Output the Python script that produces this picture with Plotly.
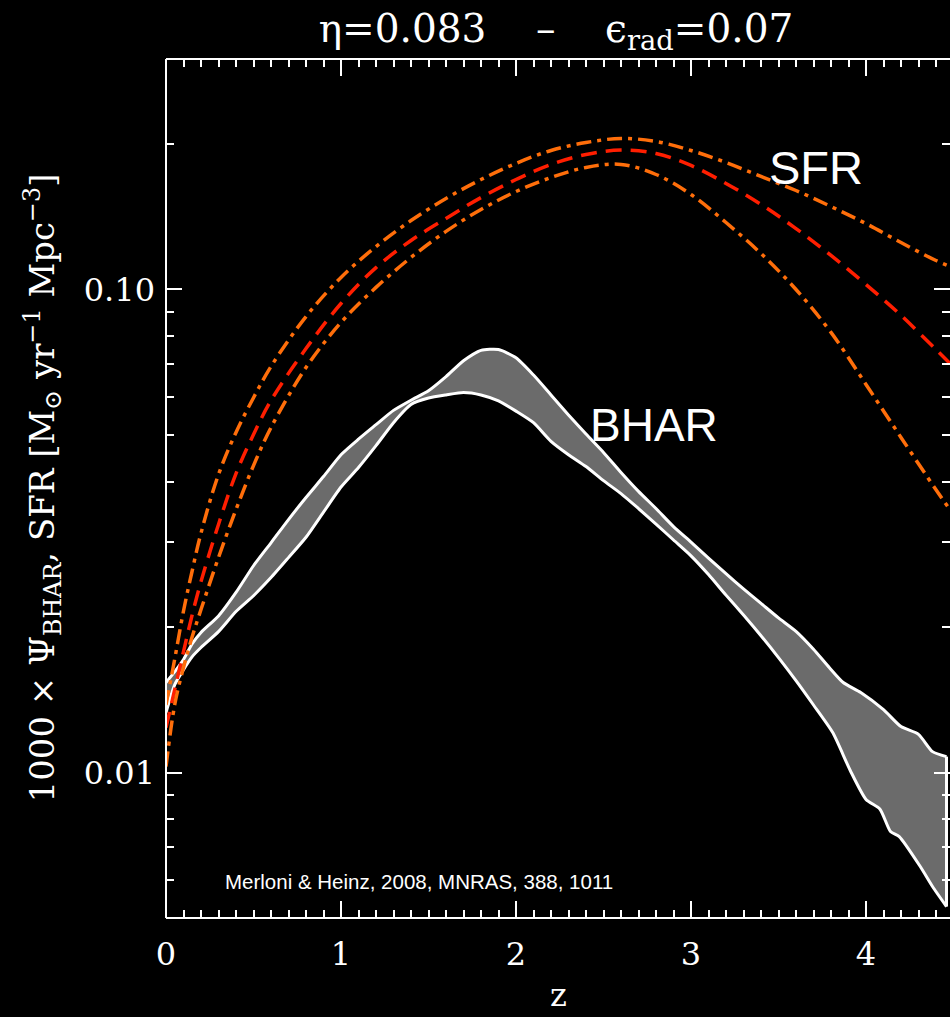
import numpy as np
import plotly.graph_objects as go

# ---- Star-formation-rate density (three estimates) ----
sfr_z = [0, 0.05, 0.1, 0.15, 0.2, 0.3, 0.4, 0.5, 0.6, 0.8, 1.0, 1.2, 1.4, 1.6, 1.8,
         2.0, 2.2, 2.4, 2.6, 2.8, 3.0, 3.2, 3.4, 3.6, 3.8, 4.0, 4.2, 4.4, 4.48]
sfr_high = [0.0138, 0.0172, 0.0216, 0.0262, 0.0313, 0.0414, 0.0506, 0.0597, 0.0693, 0.0879,
            0.1059, 0.1227, 0.1389, 0.1543, 0.1689, 0.1824, 0.1940, 0.2015, 0.2054, 0.2025,
            0.1940, 0.1832, 0.1714, 0.1603, 0.1485, 0.1369, 0.1251, 0.1148, 0.1116]
sfr_mid = [0.01239, 0.01486, 0.01780, 0.02124, 0.02485, 0.03263, 0.04159, 0.05010, 0.05892,
           0.07545, 0.09354, 0.1110, 0.1263, 0.1403, 0.1550, 0.1689, 0.1815, 0.1903, 0.1944,
           0.1912, 0.1806, 0.1658, 0.1500, 0.1337, 0.1176, 0.1024, 0.0884, 0.0751, 0.0703]
sfr_low = [0.01029, 0.01383, 0.01650, 0.01912, 0.02175, 0.02787, 0.03503, 0.04320, 0.05179,
           0.06894, 0.08546, 0.1010, 0.1165, 0.1319, 0.1464, 0.1595, 0.1705, 0.1789, 0.1815,
           0.1730, 0.1573, 0.1376, 0.1187, 0.1000, 0.0815, 0.0636, 0.0494, 0.0385, 0.0350]

# ---- Black-hole accretion-rate density band (upper / lower envelope) ----
bhar_z_upper = [0, 0.05, 0.1, 0.15, 0.2, 0.3, 0.4, 0.5, 0.6, 0.7, 0.8, 0.9, 1.0, 1.1, 1.2,
                1.3, 1.4, 1.5, 1.6, 1.7, 1.8, 1.9, 2.0, 2.1, 2.2, 2.3, 2.4, 2.5, 2.6, 2.7,
                2.8, 2.9, 3.0, 3.1, 3.2, 3.3, 3.4, 3.5, 3.6, 3.7, 3.79, 3.87, 3.97, 4.1,
                4.2, 4.3, 4.38, 4.46]
bhar_upper = [0.01536, 0.01618, 0.01714, 0.01849, 0.0195, 0.0211, 0.0236, 0.0268, 0.0299,
              0.0334, 0.0371, 0.0410, 0.0455, 0.0490, 0.0525, 0.0562, 0.0590, 0.0617,
              0.0660, 0.0712, 0.0748, 0.0751, 0.0722, 0.0665, 0.0605, 0.0550, 0.0502,
              0.0460, 0.0418, 0.0382, 0.0352, 0.0323, 0.0300, 0.0278, 0.0258, 0.0240,
              0.0224, 0.0209, 0.0196, 0.0180, 0.0165, 0.01536, 0.01465, 0.0135, 0.01245,
              0.0120, 0.01105, 0.01079]
bhar_z_lower = [0, 0.05, 0.1, 0.15, 0.2, 0.3, 0.4, 0.5, 0.6, 0.7, 0.8, 0.9, 1.0, 1.1, 1.2,
                1.3, 1.4, 1.5, 1.6, 1.7, 1.8, 1.9, 2.0, 2.1, 2.2, 2.3, 2.4, 2.5, 2.6, 2.7,
                2.8, 2.9, 3.0, 3.1, 3.2, 3.3, 3.4, 3.5, 3.6, 3.7, 3.81, 3.91, 4.0, 4.08,
                4.14, 4.19, 4.31, 4.38, 4.46]
bhar_lower = [0.01330, 0.01520, 0.01633, 0.01738, 0.01815, 0.01958, 0.02155, 0.02323,
              0.02533, 0.02786, 0.0307, 0.0346, 0.0390, 0.0428, 0.0475, 0.0530, 0.0578,
              0.0596, 0.0605, 0.0612, 0.0605, 0.0588, 0.0560, 0.0530, 0.0485, 0.0455,
              0.0430, 0.0402, 0.0378, 0.0352, 0.0327, 0.0303, 0.0281, 0.0257, 0.0233,
              0.0212, 0.0192, 0.0173, 0.0155, 0.0138, 0.0121, 0.0101, 0.0088, 0.0084,
              0.00755, 0.00737, 0.00639, 0.00581, 0.00528]

# ---- Axis ticks ----
x_major = [0, 1, 2, 3, 4]
x_minor = [round(0.1 * i, 1) for i in range(1, 45) if i % 10 != 0]
y_major = [0.01, 0.1]
y_major_text = ["0.01", "0.10"]
y_minor = [0.006, 0.007, 0.008, 0.009, 0.02, 0.03, 0.04, 0.05, 0.06, 0.07, 0.08, 0.09, 0.2]

ORANGE = "#ff6e0a"
RED = "#ff1e00"
GREY = "#6b6b6b"
SERIF = "DejaVu Serif"
SANS = "Liberation Sans"

fig = go.Figure()

# shaded BHAR band: lower edge, then upper edge filled down to it
fig.add_trace(go.Scatter(
    x=bhar_z_lower, y=bhar_lower, mode="lines",
    line=dict(color="white", width=3, shape="spline", smoothing=0.6), hoverinfo="skip"))
fig.add_trace(go.Scatter(
    x=bhar_z_upper, y=bhar_upper, mode="lines", fill="tonexty", fillcolor=GREY,
    line=dict(color="white", width=3, shape="spline", smoothing=0.6), hoverinfo="skip"))
# closing edge of the band at the last redshift
fig.add_trace(go.Scatter(
    x=[bhar_z_upper[-1], bhar_z_lower[-1]], y=[bhar_upper[-1], bhar_lower[-1]],
    mode="lines", line=dict(color="white", width=3), hoverinfo="skip"))

dashdot = "15px,6px,4px,6px"
fig.add_trace(go.Scatter(x=sfr_z, y=sfr_high, mode="lines",
                         line=dict(color=ORANGE, width=3.5, dash=dashdot, shape="spline")))
fig.add_trace(go.Scatter(x=sfr_z, y=sfr_mid, mode="lines",
                         line=dict(color=RED, width=3.5, dash="16px,9px", shape="spline")))
fig.add_trace(go.Scatter(x=sfr_z, y=sfr_low, mode="lines",
                         line=dict(color=ORANGE, width=3.5, dash=dashdot, shape="spline")))

tick_font = dict(family=SERIF, size=32, color="white")

# ticks on all four sides; the frame itself is drawn as shapes (left, top, bottom)
fig.update_xaxes(
    range=[0, 4.48], showgrid=False, zeroline=False,
    showline=False, mirror="ticks",
    ticks="inside", ticklen=17, tickwidth=2, tickcolor="white",
    tickvals=x_major, ticktext=[str(v) for v in x_major], tickfont=tick_font,
    ticklabelstandoff=14,
    minor=dict(tickvals=x_minor, ticks="inside", ticklen=8, tickwidth=2, tickcolor="white"),
)
fig.update_yaxes(
    type="log", range=[np.log10(0.005), np.log10(0.3)], showgrid=False, zeroline=False,
    showline=False, mirror="ticks",
    ticks="inside", ticklen=16, tickwidth=2, tickcolor="white",
    tickvals=y_major, ticktext=y_major_text, tickfont=tick_font,
    ticklabelstandoff=10,
    minor=dict(tickvals=y_minor, ticks="inside", ticklen=8, tickwidth=2, tickcolor="white"),
)

frame = dict(type="line", xref="paper", yref="paper", line=dict(color="white", width=2))
fig.update_layout(shapes=[
    dict(frame, x0=0, x1=1, y0=0, y1=0),
    dict(frame, x0=0, x1=1, y0=1, y1=1),
    dict(frame, x0=0, x1=0, y0=0, y1=1),
])

gap = "\u00a0" * 4
fig.update_layout(
    width=950, height=1017,
    paper_bgcolor="black", plot_bgcolor="black",
    margin=dict(l=166, r=0, t=59, b=99),
    showlegend=False,
    title=dict(text=f"η=0.083{gap}–{gap}ϵ<sub>rad</sub>=0.07",
               x=556 / 950, xanchor="center", xref="container",
               y=1 - 28 / 1017, yanchor="middle", yref="container",
               font=dict(family=SERIF, size=39, color="white")),
)

annotations = [
    dict(text="1000 × Ψ<sub>BHAR</sub>, SFR [M<sub>⊙</sub> yr<sup>−1</sup> Mpc<sup>−3</sup>]",
         xref="paper", yref="paper", x=(42 - 166) / 784, y=0.5, textangle=-90,
         showarrow=False, xanchor="center", yanchor="middle",
         font=dict(family=SERIF, size=34, color="white")),
    dict(text="z", xref="paper", yref="paper", x=0.5, y=(918 - 995) / 859,
         showarrow=False, xanchor="center", yanchor="middle",
         font=dict(family=SERIF, size=32, color="white")),
    dict(text="SFR", x=3.714, y=-0.7474, xref="x", yref="y", showarrow=False,
         xanchor="center", yanchor="middle", font=dict(family=SANS, size=47, color="white")),
    dict(text="BHAR", x=2.789, y=-1.2795, xref="x", yref="y", showarrow=False,
         xanchor="center", yanchor="middle", font=dict(family=SANS, size=46, color="white")),
    dict(text="Merloni & Heinz, 2008, MNRAS, 388, 1011", x=(419 - 166) / 784,
         y=(918 - 881) / 859, xref="paper", yref="paper", showarrow=False,
         xanchor="center", yanchor="middle", font=dict(family=SANS, size=20.5, color="white")),
]
fig.update_layout(annotations=annotations)

fig.write_html("out.html")
